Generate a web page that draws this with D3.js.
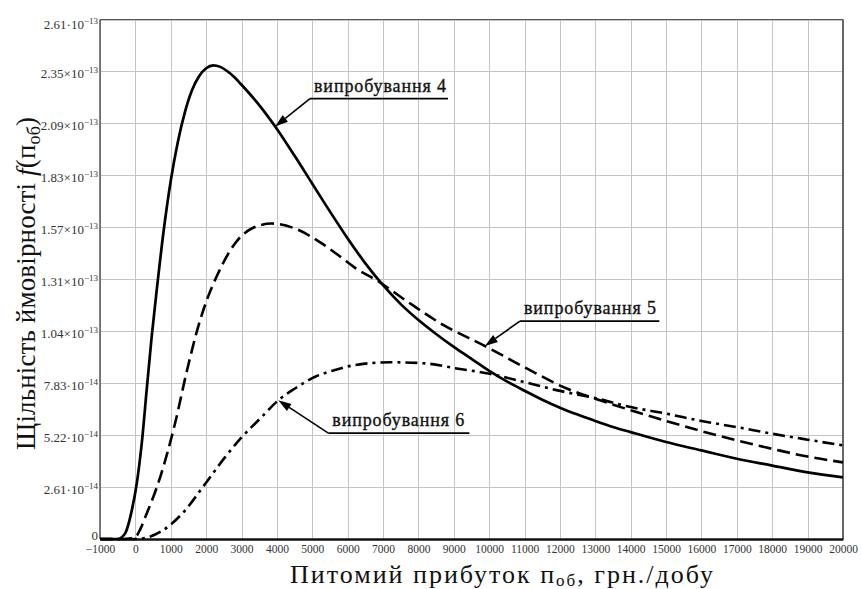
<!DOCTYPE html>
<html>
<head>
<meta charset="utf-8">
<script src="https://cdn.jsdelivr.net/npm/d3@7"></script>
<style>
  body { margin: 0; background: #fff; }
  svg { display: block; }
</style>
</head>
<body>
<svg id="chart" width="861" height="589"></svg>
<script>
// Probability density of specific profit for three trials.
// Density values are stored in units of 1e-14.
const UNIT = 1e-14;

const xTickValues = [-1000, 0, 1000, 2000, 3000, 4000, 5000, 6000, 7000, 8000, 9000, 10000,
  11000, 12000, 13000, 14000, 15000, 16000, 17000, 18000, 19000, 20000];
const xTickLabels = ["\u22121000", "0", "1000", "2000", "3000", "4000", "5000", "6000", "7000", "8000",
  "9000", "10000", "11000", "12000", "13000", "14000", "15000", "16000", "17000", "18000", "19000", "20000"];

const yTickValues = [0, 2.61, 5.22, 7.83, 10.44, 13.05, 15.66, 18.27, 20.88, 23.49, 26.1];
const yTickMantissas = ["0", "2.61", "5.22", "7.83", "1.04", "1.31", "1.57", "1.83", "2.09", "2.35", "2.61"];
const yTickSeparators = ["", "\u00b7", "\u00b7", "\u00b7", "\u00d7", "\u00d7", "\u00d7", "\u00d7", "\u00d7", "\u00d7", "\u00b7"];
const yTickExponents = ["", "\u221214", "\u221214", "\u221214", "\u221213", "\u221213", "\u221213", "\u221213", "\u221213", "\u221213", "\u221213"];

// [profit, density / 1e-14]
const trial4 = [[-1000, 0], [-500, 0], [-300, 0.25], [-100, 1.45], [40, 2.8], [180, 4.8], [320, 7.5],
  [460, 10.15], [600, 12.45], [800, 15.5], [1000, 18.0], [1200, 19.95], [1400, 21.45], [1600, 22.55],
  [1800, 23.25], [2000, 23.65], [2200, 23.8], [2400, 23.72], [2600, 23.5], [2800, 23.2], [3000, 22.82],
  [3500, 21.8], [4000, 20.6], [4500, 19.25], [5000, 17.85], [5500, 16.45], [6000, 15.1], [6500, 13.85],
  [7000, 12.75], [7500, 11.8], [8000, 11.0], [8500, 10.3], [9000, 9.65], [9500, 9.05], [10000, 8.45],
  [10500, 7.92], [11000, 7.45], [11500, 7.0], [12000, 6.6], [12500, 6.25], [13000, 5.93], [13500, 5.63],
  [14000, 5.37], [15000, 4.87], [16000, 4.45], [17000, 4.03], [18000, 3.69], [19000, 3.35], [20000, 3.1]];

const trial5 = [[-1000, 0], [-300, 0], [0, 0.1], [140, 0.5], [280, 1.1], [700, 3.1], [1120, 5.8], [1450, 8.4],
  [1780, 10.7], [2060, 12.2], [2300, 13.2], [2815, 14.85], [3290, 15.6], [3850, 15.85], [4510, 15.6],
  [5270, 14.85], [5780, 14.2], [6210, 13.62], [6860, 12.95], [7670, 11.95], [8610, 10.85], [9930, 9.65],
  [11060, 8.57], [12190, 7.56], [13130, 6.97], [14000, 6.47], [15000, 5.93], [16000, 5.42], [17000, 4.95],
  [18000, 4.53], [19000, 4.14], [20000, 3.85]];

const trial6 = [[-1000, 0], [0, 0], [280, 0.05], [745, 0.4], [1310, 1.25], [1970, 2.76], [2530, 4.1], [3000, 5.1],
  [3570, 6.13], [4040, 6.97], [4510, 7.56], [5080, 8.15], [5640, 8.49], [6210, 8.74], [7200, 8.88],
  [8140, 8.83], [9080, 8.57], [10020, 8.3], [10960, 7.9], [11900, 7.48], [13040, 7.06], [14000, 6.63],
  [15000, 6.3], [16000, 5.93], [17000, 5.62], [18000, 5.29], [19000, 4.99], [20000, 4.7]];

const seriesNames = ["випробування 4", "випробування 5", "випробування 6"];

// Callout anchors in data units: arrow tip profit, shelf height, shelf start and end profit
const calloutTipX = [3950, 9880, 4040];
const calloutShelfY = [22.12, 10.95, 5.32];
const calloutShelfX0 = [4935, 10870, 5453];
const calloutShelfX1 = [8836, 14808, 9438];

// ---- layout ----
const plot = { left: 100, right: 843, top: 19.5, bottom: 539 };
const svg = d3.select("#chart");
const serif = "'Liberation Serif', 'DejaVu Serif', serif";

const x = d3.scaleLinear().domain([-1000, 20000]).range([plot.left, plot.right]);
const y = d3.scaleLinear().domain([0, 26.1 * UNIT]).range([plot.bottom, plot.top]);

// grid
const grid = svg.append("g").attr("stroke", "#c4c4c4").attr("stroke-width", 1);
grid.selectAll("line.v").data(xTickValues).join("line")
  .attr("x1", d => Math.round(x(d)) + 0.5).attr("x2", d => Math.round(x(d)) + 0.5)
  .attr("y1", plot.top).attr("y2", plot.bottom);
grid.selectAll("line.h").data(yTickValues).join("line")
  .attr("y1", d => Math.round(y(d * UNIT)) + 0.5).attr("y2", d => Math.round(y(d * UNIT)) + 0.5)
  .attr("x1", plot.left).attr("x2", plot.right);

// frame
svg.append("line").attr("x1", plot.left).attr("x2", plot.right).attr("y1", plot.top).attr("y2", plot.top)
  .attr("stroke", "#555").attr("stroke-width", 1.2);
svg.append("line").attr("x1", plot.right).attr("x2", plot.right).attr("y1", plot.top).attr("y2", plot.bottom)
  .attr("stroke", "#666").attr("stroke-width", 2);
svg.append("line").attr("x1", plot.left).attr("x2", plot.left).attr("y1", plot.top).attr("y2", plot.bottom)
  .attr("stroke", "#555").attr("stroke-width", 1.5);

// x axis
const xAxis = svg.append("g")
  .attr("transform", `translate(0,${plot.bottom})`)
  .call(d3.axisBottom(x).tickValues(xTickValues).tickSize(0).tickPadding(6)
    .tickFormat((d, i) => xTickLabels[i]));
xAxis.select(".domain").attr("stroke", "#111").attr("stroke-width", 2.4);
xAxis.selectAll("text").attr("font-family", serif).attr("font-size", 11.5).attr("fill", "#333");

// y axis
const yAxis = svg.append("g")
  .attr("transform", `translate(${plot.left},0)`)
  .call(d3.axisLeft(y).tickValues(yTickValues.map(v => v * UNIT)).tickSize(0).tickPadding(2)
    .tickFormat(""));
yAxis.select(".domain").remove();
yAxis.selectAll(".tick text").each(function (d, i) {
  const t = d3.select(this)
    .attr("font-family", serif).attr("font-size", 13).attr("fill", "#333")
    .attr("dy", i === 0 ? "0em" : (i === yTickValues.length - 1 ? "0.7em" : "0.5em"));
  t.text(null);
  if (i === 0) { t.text(yTickMantissas[i]); return; }
  t.append("tspan").text(yTickMantissas[i] + yTickSeparators[i] + "10");
  t.append("tspan").attr("font-size", 9).attr("dy", -5.5).text(yTickExponents[i]);
});

// curves
const line = d3.line()
  .x(d => x(d[0]))
  .y(d => y(d[1] * UNIT))
  .curve(d3.curveMonotoneX);

const curves = svg.append("g").attr("fill", "none").attr("stroke", "#000")
  .attr("stroke-linejoin", "round");
const seriesData = [trial4, trial5, trial6];
const seriesDash = [null, "13,6", "12,5,3,5"];
const paths = seriesData.map((data, i) => curves.append("path")
  .attr("d", line(data))
  .attr("stroke-width", i === 0 ? 2.7 : 2.6)
  .attr("stroke-dasharray", seriesDash[i])
  .node());

// locate the point on a drawn curve at a given screen x
function pointAtX(node, px) {
  let lo = 0, hi = node.getTotalLength();
  for (let k = 0; k < 40; k++) {
    const mid = (lo + hi) / 2;
    if (node.getPointAtLength(mid).x < px) lo = mid; else hi = mid;
  }
  return node.getPointAtLength((lo + hi) / 2);
}

// callouts
const callouts = svg.append("g");
seriesNames.forEach((name, i) => {
  const sx0 = x(calloutShelfX0[i]), sx1 = x(calloutShelfX1[i]);
  const sy = y(calloutShelfY[i] * UNIT);
  const tip = pointAtX(paths[i], x(calloutTipX[i]));
  const ang = Math.atan2(tip.y - sy, tip.x - sx0);
  const len = 13, half = 4.2;
  const bx = tip.x - len * Math.cos(ang), by = tip.y - len * Math.sin(ang);
  const nx = -Math.sin(ang), ny = Math.cos(ang);

  callouts.append("line")
    .attr("x1", sx0).attr("y1", sy).attr("x2", sx1).attr("y2", sy)
    .attr("stroke", "#000").attr("stroke-width", 1.8);
  callouts.append("line")
    .attr("x1", sx0).attr("y1", sy).attr("x2", bx).attr("y2", by)
    .attr("stroke", "#000").attr("stroke-width", 1.6);
  callouts.append("polygon")
    .attr("points", [[tip.x, tip.y], [bx + nx * half, by + ny * half], [bx - nx * half, by - ny * half]]
      .map(p => p.join(",")).join(" "))
    .attr("fill", "#000");
  callouts.append("text")
    .attr("x", sx0 + 4).attr("y", sy - 7)
    .attr("font-family", serif).attr("font-size", 18).attr("fill", "#111")
    .attr("stroke", "#111").attr("stroke-width", 0.35)
    .attr("textLength", 132).attr("lengthAdjust", "spacing")
    .text(name);
});

// axis titles
const xTitle = svg.append("text")
  .attr("x", 290).attr("y", 583)
  .attr("font-family", serif).attr("font-size", 26).attr("fill", "#111")
  .attr("textLength", 423).attr("lengthAdjust", "spacing");
xTitle.append("tspan").text("Питомий прибуток п");
xTitle.append("tspan").attr("font-size", 17).attr("dy", 3).text("об");
xTitle.append("tspan").attr("dy", -3).text(", грн./добу");

const yTitle = svg.append("text")
  .attr("transform", "translate(35,450) rotate(-90)")
  .attr("x", 0).attr("y", 0)
  .attr("font-family", serif).attr("font-size", 27).attr("fill", "#111")
  .attr("textLength", 333).attr("lengthAdjust", "spacing");
yTitle.append("tspan").text("Щільність ймовірності ");
yTitle.append("tspan").attr("font-style", "italic").text("f");
yTitle.append("tspan").text("(п");
yTitle.append("tspan").attr("font-size", 18).attr("dy", 5).text("об");
yTitle.append("tspan").attr("dy", -5).text(")");
</script>
</body>
</html>
